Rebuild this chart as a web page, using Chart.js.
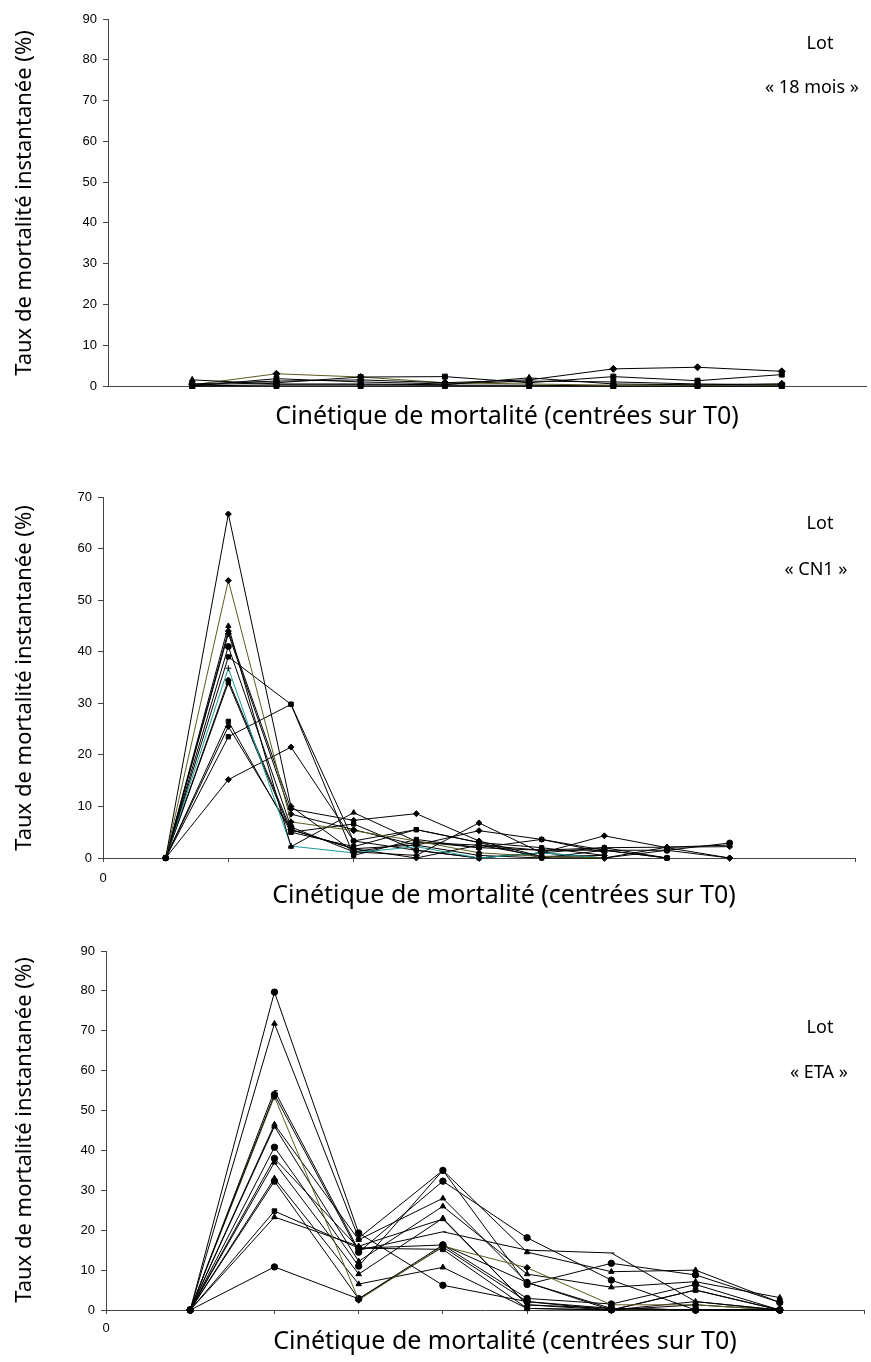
<!DOCTYPE html>
<html lang="fr">
<head>
<meta charset="UTF-8">
<title>Cinétique de mortalité - trois lots</title>
<script src="https://cdn.jsdelivr.net/npm/chart.js@4.4.0/dist/chart.umd.min.js"></script>
<style>
    body { margin: 0; background: #fff; }
    #page { position: relative; width: 871px; height: 1362px; overflow: hidden; font-family: 'Noto Sans', sans-serif; color: #000; }
    canvas { position: absolute; left: 0; }
    .ytitle { position: absolute; left: 22px; font-size: 22px; white-space: nowrap; transform: translate(-50%, -50%) rotate(-90deg); }
    .xtitle { position: absolute; font-size: 25px; white-space: nowrap; transform: translate(-50%, -50%); }
    .lot { position: absolute; font-size: 18px; white-space: nowrap; transform: translate(-50%, -50%); }
</style>
</head>
<body>
<div id="page">
    <canvas id="chart18" width="871" height="440" style="top:0"></canvas>
    <canvas id="chartCN1" width="871" height="460" style="top:440px"></canvas>
    <canvas id="chartETA" width="871" height="462" style="top:900px"></canvas>

    <div class="ytitle" style="top:203px">Taux de mortalité instantanée (%)</div>
    <div class="ytitle" style="top:678px">Taux de mortalité instantanée (%)</div>
    <div class="ytitle" style="top:1130px">Taux de mortalité instantanée (%)</div>

    <div class="xtitle" style="left:507px; top:414px">Cinétique de mortalité (centrées sur T0)</div>
    <div class="xtitle" style="left:504px; top:893px">Cinétique de mortalité (centrées sur T0)</div>
    <div class="xtitle" style="left:505px; top:1339px">Cinétique de mortalité (centrées sur T0)</div>

    <div class="lot" style="left:820px; top:42px">Lot</div>
    <div class="lot" style="left:812px; top:86px">« 18 mois »</div>
    <div class="lot" style="left:820px; top:522px">Lot</div>
    <div class="lot" style="left:816px; top:568px">« CN1 »</div>
    <div class="lot" style="left:820px; top:1026px">Lot</div>
    <div class="lot" style="left:819px; top:1071px">« ETA »</div>
</div>

<script>
    // ---- Lot "18 mois" ----
    var lot18X = [1, 2, 3, 4, 5, 6, 7, 8];
    var lot18Series = [
        [0.5, 1.2, 1.5, 0.8, 1.5, 4.2, 4.6, 3.6],
        [0.3, 0.8, 2.2, 2.3, 0.8, 2.3, 1.3, 2.8],
        [1.5, 0.5, 0.5, 0.3, 2.0, 0.5, 0.3, 0.5],
        [0.3, 3.0, 2.2, 0.8, 0.5, 0.2, 0.2, 0.5],
        [0.0, 1.8, 1.0, 0.5, 1.2, 1.0, 0.5, 0.3],
        [0.0, 0.3, 0.3, 0.2, 0.2, 0.0, 0.0, 0.0],
        [0.0, 0.0, 0.0, 0.0, 0.0, 0.0, 0.0, 0.0]
    ];
    var lot18Markers = ['rectRot', 'rect', 'triangle', 'rectRot', 'rect', 'rect', 'rect'];
    var lot18Colors = ['#000', '#000', '#000', '#5f5a1e', '#000', '#000', '#000'];
    var lot18Ticks = [0, 10, 20, 30, 40, 50, 60, 70, 80, 90];

    // ---- Lot "CN1" ----
    var cn1X = [1, 2, 3, 4, 5, 6, 7, 8, 9, 10];
    var cn1Series = [
        [0, 66.7, 10.0, 1.2, 0.5, 6.8, 1.0, 4.3, 2.0, 0],
        [0, 53.8, 7.0, 5.3, 3.3, 1.0, 0.3, 0],
        [0, 45.0, 2.2, 8.8, 3.2, 2.0, 1.5, 2.0, 2.1, 2.5],
        [0, 44.0, 9.5, 7.3, 8.6, 3.3, 0.3, 0],
        [0, 43.5, 8.5, 5.5, 2.5, 5.3, 3.6, 1.1],
        [0, 41.0, 6.0, 1.2, 3.0, 2.5, 1.5, 1.5, 1.5, 2.9],
        [0, 39.0, 29.8, 3.3, 5.5, 3.0, 2.0, 0.5],
        [0, 36.8, 2.3, 1.0, 2.2, 0, 1.0, 0],
        [0, 34.5, 5.5, 1.8, 0, 2.5, 0.3, 0.5],
        [0, 34.0, 5.0, 6.6, 1.5, 0, 1.0, 2.0, 0],
        [0, 26.5, 5.0, 2.2, 5.5, 3.0, 0, 1.5, 0],
        [0, 25.5, 5.5, 1.8, 2.5, 0.5, 0, 0, 2.1, 2.2],
        [0, 23.5, 29.8, 0.5, 3.6, 2.0, 3.6, 1.5, 0],
        [0, 15.2, 21.5, 3.3, 1.5, 0, 1.0, 0, 1.5, 0]
    ];
    var cn1Markers = ['rectRot', 'rectRot', 'triangle', 'rectRot', 'rectRot', 'circle', 'rect',
                      'cross', 'rectRot', 'rect', 'rect', 'rectRot', 'rect', 'rectRot'];
    var cn1Colors = ['#000', '#5f5a1e', '#000', '#000', '#000', '#000', '#000',
                     '#1a9a9a', '#000', '#000', '#000', '#000', '#000', '#000'];
    var cn1Ticks = [0, 10, 20, 30, 40, 50, 60, 70];

    // ---- Lot "ETA" ----
    var etaX = [1, 2, 3, 4, 5, 6, 7, 8];
    var etaSeries = [
        [0, 79.7, 19.3, 6.2, 2.1, 0.4, 0, 0],
        [0, 71.8, 18.0, 35.0, 14.5, 9.6, 10.0, 1.9],
        [0, 55.0, 15.0, 19.6, 15.0, 14.3, 2.1, 0],
        [0, 54.0, 14.5, 32.3, 18.1, 7.5, 0, 0],
        [0, 53.5, 2.5, 16.0, 10.6, 1.3, 1.3, 0],
        [0, 46.5, 17.6, 28.0, 6.9, 0, 5.0, 0],
        [0, 46.0, 12.2, 26.0, 9.0, 5.7, 7.1, 3.1],
        [0, 40.8, 11.0, 35.0, 6.4, 11.7, 8.8, 1.9],
        [0, 38.0, 15.5, 16.3, 2.9, 1.5, 6.4, 0],
        [0, 37.0, 9.0, 23.0, 1.3, 0.4, 0, 0],
        [0, 33.0, 6.5, 10.7, 0.4, 0, 2.1, 0],
        [0, 32.3, 2.8, 15.8, 2.1, 0, 0, 0],
        [0, 24.8, 15.5, 15.2, 0.4, 0, 5.0, 0],
        [0, 23.3, 16.0, 22.8, 1.3, 0, 1.3, 0],
        [0, 10.8, 2.8, 16.3, 6.9, 0.4, 0, 0]
    ];
    var etaMarkers = ['circle', 'triangle', 'dash', 'circle', 'rectRot', 'triangle', 'triangle', 'circle',
                      'circle', 'triangle', 'triangle', 'circle', 'rect', 'triangle', 'circle'];
    var etaColors = ['#000', '#000', '#000', '#000', '#5f5a1e', '#000', '#000', '#000',
                     '#000', '#000', '#000', '#000', '#000', '#000', '#000'];
    var etaTicks = [0, 10, 20, 30, 40, 50, 60, 70, 80, 90];

    var axisColor = '#444';
    var tickFont = { family: 'Liberation Sans', size: 13 };

    function buildDatasets(xs, series, markers, colors, radius) {
        return series.map(function (values, i) {
            return {
                data: values.map(function (v, j) { return { x: xs[j], y: v }; }),
                borderColor: colors[i],
                borderWidth: 1,
                pointStyle: markers[i],
                pointRadius: radius,
                pointBackgroundColor: '#000',
                pointBorderColor: '#000',
                pointBorderWidth: 1,
                tension: 0,
                clip: false
            };
        });
    }

    function makeChart(id, opts) {
        var ctx = document.getElementById(id).getContext('2d');
        return new Chart(ctx, {
            type: 'line',
            data: { datasets: buildDatasets(opts.xs, opts.series, opts.markers, opts.colors, opts.radius) },
            options: {
                responsive: false,
                animation: false,
                layout: { padding: { top: opts.padTop, right: opts.padRight, left: 0, bottom: 0 } },
                plugins: { legend: { display: false }, tooltip: { enabled: false } },
                scales: {
                    x: {
                        type: 'linear',
                        min: 0,
                        max: opts.xMax,
                        border: { color: axisColor, width: 1 },
                        grid: { display: opts.xStep > 0, drawOnChartArea: false, tickLength: 4, color: axisColor },
                        ticks: {
                            display: opts.xStep > 0,
                            stepSize: opts.xStep || 1,
                            autoSkip: false,
                            maxRotation: 0,
                            padding: opts.xLabelPad,
                            color: '#000',
                            font: tickFont,
                            callback: function (v) { return v === 0 ? '0' : ''; }
                        },
                        afterFit: function (scale) { scale.height = opts.xHeight; }
                    },
                    y: {
                        min: 0,
                        max: opts.yTicks[opts.yTicks.length - 1],
                        border: { color: axisColor, width: 1 },
                        grid: { drawOnChartArea: false, tickLength: 5, color: axisColor },
                        ticks: {
                            stepSize: opts.yTicks[1] - opts.yTicks[0],
                            padding: 6,
                            color: '#000',
                            font: tickFont
                        },
                        afterFit: function (scale) { scale.width = opts.yWidth; }
                    }
                }
            }
        });
    }

    makeChart('chart18', {
        xs: lot18X, series: lot18Series, markers: lot18Markers, colors: lot18Colors, radius: 3.5,
        yTicks: lot18Ticks, xMax: 9, xStep: 0, xLabelPad: 8,
        padTop: 19, padRight: 0, yWidth: 108, xHeight: 54
    });

    makeChart('chartCN1', {
        xs: cn1X, series: cn1Series, markers: cn1Markers, colors: cn1Colors, radius: 3,
        yTicks: cn1Ticks, xMax: 12, xStep: 2, xLabelPad: 9,
        padTop: 57, padRight: 16, yWidth: 103, xHeight: 42
    });

    makeChart('chartETA', {
        xs: etaX, series: etaSeries, markers: etaMarkers, colors: etaColors, radius: 3.2,
        yTicks: etaTicks, xMax: 9, xStep: 1, xLabelPad: 7,
        padTop: 51, padRight: 0, yWidth: 106, xHeight: 52
    });
</script>
</body>
</html>
